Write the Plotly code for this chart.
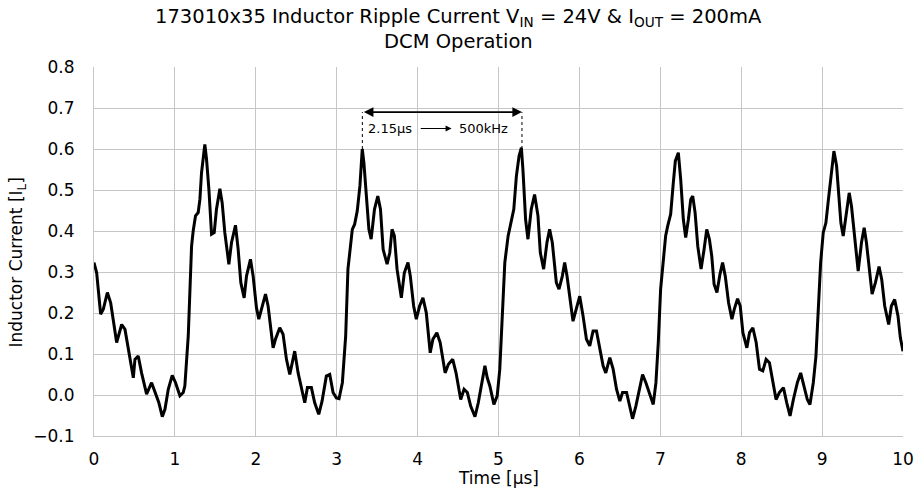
import plotly.graph_objects as go

# Time axis samples [µs] and inductor current [A]
time_us = [
    0.000, 0.033, 0.082, 0.115, 0.165, 0.206, 0.280, 0.342, 0.383, 0.444,
    0.486, 0.506, 0.547, 0.588, 0.650, 0.712, 0.753, 0.802, 0.844, 0.877,
    0.918, 0.967, 1.008, 1.062, 1.103, 1.123, 1.165, 1.206, 1.226, 1.255,
    1.288, 1.309, 1.329, 1.370, 1.391, 1.420, 1.453, 1.486, 1.514, 1.556,
    1.584, 1.617, 1.667, 1.700, 1.749, 1.782, 1.815, 1.856, 1.885, 1.934,
    1.967, 2.008, 2.037, 2.078, 2.120, 2.152, 2.214, 2.243, 2.296, 2.337,
    2.379, 2.420, 2.449, 2.481, 2.523, 2.572, 2.605, 2.638, 2.687, 2.728,
    2.778, 2.819, 2.872, 2.914, 2.955, 2.996, 3.029, 3.070, 3.111, 3.139,
    3.172, 3.193, 3.221, 3.254, 3.287, 3.316, 3.336, 3.369, 3.398, 3.426,
    3.467, 3.508, 3.541, 3.574, 3.623, 3.656, 3.684, 3.713, 3.746, 3.799,
    3.836, 3.881, 3.910, 3.951, 3.984, 4.025, 4.066, 4.107, 4.156, 4.189,
    4.238, 4.279, 4.340, 4.381, 4.434, 4.475, 4.533, 4.574, 4.615, 4.656,
    4.709, 4.750, 4.791, 4.832, 4.861, 4.893, 4.943, 4.984, 5.016, 5.049,
    5.078, 5.119, 5.160, 5.189, 5.221, 5.254, 5.283, 5.302, 5.335, 5.364,
    5.405, 5.446, 5.488, 5.517, 5.558, 5.599, 5.632, 5.665, 5.715, 5.748,
    5.789, 5.818, 5.847, 5.888, 5.921, 5.955, 6.004, 6.045, 6.087, 6.128,
    6.169, 6.211, 6.252, 6.293, 6.326, 6.376, 6.417, 6.459, 6.500, 6.533,
    6.583, 6.624, 6.657, 6.698, 6.740, 6.781, 6.822, 6.872, 6.913, 6.946,
    6.975, 7.004, 7.037, 7.066, 7.091, 7.128, 7.161, 7.186, 7.223, 7.252,
    7.285, 7.314, 7.347, 7.376, 7.401, 7.430, 7.463, 7.504, 7.541, 7.574,
    7.607, 7.636, 7.665, 7.700, 7.738, 7.770, 7.803, 7.844, 7.885, 7.914,
    7.955, 7.988, 8.021, 8.070, 8.103, 8.144, 8.185, 8.226, 8.267, 8.308,
    8.349, 8.390, 8.431, 8.472, 8.522, 8.563, 8.604, 8.645, 8.694, 8.735,
    8.776, 8.817, 8.850, 8.891, 8.924, 8.953, 8.982, 9.014, 9.047, 9.076,
    9.105, 9.146, 9.179, 9.207, 9.232, 9.261, 9.294, 9.335, 9.363, 9.405,
    9.446, 9.487, 9.520, 9.548, 9.581, 9.618, 9.659, 9.704, 9.737, 9.774,
    9.823, 9.856, 9.897, 9.938, 9.967, 10.000,
]
current_a = [
    0.323, 0.298, 0.197, 0.209, 0.250, 0.225, 0.128, 0.172, 0.160, 0.087,
    0.042, 0.087, 0.095, 0.054, 0.002, 0.030, 0.006, -0.019, -0.053, -0.035,
    0.014, 0.048, 0.030, -0.002, 0.006, 0.022, 0.144, 0.363, 0.400, 0.437,
    0.445, 0.477, 0.542, 0.611, 0.575, 0.502, 0.392, 0.396, 0.453, 0.503,
    0.469, 0.396, 0.319, 0.372, 0.414, 0.355, 0.274, 0.237, 0.290, 0.331,
    0.290, 0.213, 0.185, 0.217, 0.246, 0.217, 0.115, 0.136, 0.164, 0.148,
    0.087, 0.050, 0.079, 0.107, 0.054, 0.006, -0.019, 0.018, 0.018, -0.019,
    -0.047, -0.015, 0.046, 0.050, 0.006, -0.007, -0.009, 0.030, 0.144, 0.307,
    0.372, 0.404, 0.416, 0.449, 0.510, 0.600, 0.567, 0.477, 0.404, 0.380,
    0.453, 0.485, 0.453, 0.355, 0.319, 0.347, 0.404, 0.388, 0.307, 0.237,
    0.298, 0.323, 0.290, 0.217, 0.185, 0.217, 0.237, 0.201, 0.103, 0.136,
    0.152, 0.128, 0.054, 0.075, 0.087, 0.054, -0.011, 0.014, 0.006, -0.027,
    -0.053, -0.019, 0.030, 0.071, 0.042, 0.022, -0.023, -0.002, 0.063, 0.193,
    0.323, 0.388, 0.428, 0.453, 0.534, 0.583, 0.603, 0.550, 0.428, 0.380,
    0.453, 0.489, 0.437, 0.347, 0.307, 0.372, 0.404, 0.372, 0.274, 0.258,
    0.290, 0.323, 0.290, 0.225, 0.180, 0.205, 0.241, 0.193, 0.136, 0.120,
    0.156, 0.156, 0.111, 0.071, 0.054, 0.091, 0.063, 0.014, -0.015, 0.006,
    0.006, -0.027, -0.058, -0.027, 0.014, 0.050, 0.030, -0.002, -0.023, 0.030,
    0.128, 0.258, 0.339, 0.388, 0.412, 0.441, 0.518, 0.571, 0.591, 0.526,
    0.428, 0.384, 0.428, 0.477, 0.485, 0.445, 0.363, 0.307, 0.355, 0.404,
    0.380, 0.339, 0.270, 0.250, 0.295, 0.323, 0.290, 0.225, 0.185, 0.209,
    0.235, 0.217, 0.152, 0.115, 0.152, 0.164, 0.128, 0.063, 0.059, 0.087,
    0.079, 0.030, -0.011, 0.006, 0.018, -0.019, -0.051, -0.011, 0.030, 0.054,
    0.022, -0.011, -0.023, 0.030, 0.095, 0.225, 0.323, 0.396, 0.420, 0.473,
    0.526, 0.595, 0.559, 0.477, 0.420, 0.388, 0.437, 0.493, 0.461, 0.372,
    0.302, 0.372, 0.408, 0.372, 0.307, 0.246, 0.274, 0.313, 0.282, 0.217,
    0.172, 0.217, 0.233, 0.193, 0.140, 0.107,
]

x_ticks = [0, 1, 2, 3, 4, 5, 6, 7, 8, 9, 10]
y_ticks = [-0.1, 0.0, 0.1, 0.2, 0.3, 0.4, 0.5, 0.6, 0.7, 0.8]

# Period annotation (peak-to-peak marker)
peak_times = [3.317, 5.290]
peak_level = 0.60
marker_level = 0.69
label_level = 0.65
period_label = "2.15µs"
freq_label = "500kHz"
period_label_t = 3.66
freq_label_t = 4.81
small_arrow_t = [4.02, 4.42]

title_line1 = "173010x35 Inductor Ripple Current V<sub>IN</sub> = 24V &amp; I<sub>OUT</sub> = 200mA"
title_line2 = "DCM Operation"

FONT = "DejaVu Sans"
GRID = "#c6c6c6"

fig = go.Figure()
fig.add_trace(go.Scatter(
    x=time_us, y=current_a, mode="lines",
    line=dict(color="black", width=3), showlegend=False, hoverinfo="skip",
))

fig.update_layout(
    width=917, height=500,
    margin=dict(l=94, r=14, t=67, b=64, autoexpand=False),
    paper_bgcolor="white", plot_bgcolor="white",
    font=dict(family=FONT, size=17, color="black"),
    showlegend=False,
)

fig.update_xaxes(
    range=[0, 10], tickvals=x_ticks, ticktext=[str(v) for v in x_ticks],
    showgrid=True, gridcolor=GRID, gridwidth=1,
    showline=True, linecolor=GRID, linewidth=1, mirror=False,
    zeroline=False, ticks="", ticklabelstandoff=8, automargin=False,
    ticklabeloverflow="allow",
    tickfont=dict(family=FONT, size=17),
)
fig.update_yaxes(
    range=[-0.1, 0.8], tickvals=y_ticks, tickformat=".1f",
    showgrid=True, gridcolor=GRID, gridwidth=1,
    showline=True, linecolor=GRID, linewidth=1, mirror=False,
    zeroline=False, ticks="", ticklabelstandoff=15, automargin=False,
    tickfont=dict(family=FONT, size=17),
)

# Title (two lines), centred over the whole chart
fig.add_annotation(
    text=title_line1, xref="paper", yref="paper", x=0.4506, y=1.133,
    xanchor="center", yanchor="middle", showarrow=False,
    font=dict(family=FONT, size=19.5),
)
fig.add_annotation(
    text=title_line2, xref="paper", yref="paper", x=0.4506, y=1.068,
    xanchor="center", yanchor="middle", showarrow=False,
    font=dict(family=FONT, size=19.5),
)

# Axis titles
fig.add_annotation(
    text="Time [µs]", xref="paper", yref="paper",
    x=0.5, y=-0.113, xanchor="center", yanchor="middle",
    showarrow=False, font=dict(family=FONT, size=17),
)
fig.add_annotation(
    text="Inductor Current [I<sub>L</sub>]", xref="paper", yref="paper",
    x=-0.094, y=0.47, xanchor="center", yanchor="middle", textangle=-90,
    showarrow=False, font=dict(family=FONT, size=17),
)

# Dashed verticals at the two peaks
for t in peak_times:
    fig.add_shape(
        type="line", xref="x", yref="y", x0=t, x1=t, y0=peak_level, y1=marker_level,
        line=dict(color="black", width=1, dash="dot"),
    )

# Double headed arrow between peaks
fig.add_annotation(
    x=peak_times[1], y=marker_level, ax=peak_times[0], ay=marker_level,
    xref="x", yref="y", axref="x", ayref="y", text="",
    showarrow=True, arrowhead=2, startarrowhead=2, arrowside="end+start",
    arrowsize=1.2, startarrowsize=1.2, arrowwidth=1.6, arrowcolor="black",
)
# Small arrow between labels
fig.add_annotation(
    x=small_arrow_t[1], y=label_level, ax=small_arrow_t[0], ay=label_level,
    xref="x", yref="y", axref="x", ayref="y", text="",
    showarrow=True, arrowhead=2, arrowsize=1.2, arrowwidth=1, arrowcolor="black",
)
fig.add_annotation(
    text=period_label, x=period_label_t, y=label_level, xref="x", yref="y",
    showarrow=False, font=dict(family=FONT, size=13),
)
fig.add_annotation(
    text=freq_label, x=freq_label_t, y=label_level, xref="x", yref="y",
    showarrow=False, font=dict(family=FONT, size=13),
)

# Remove the browser's default page margin so the 917x500 figure fills the window.
fig.write_html(
    "out.html",
    config={"displayModeBar": False},
    post_script="document.body.style.margin='0px';document.body.style.overflow='hidden';",
)
